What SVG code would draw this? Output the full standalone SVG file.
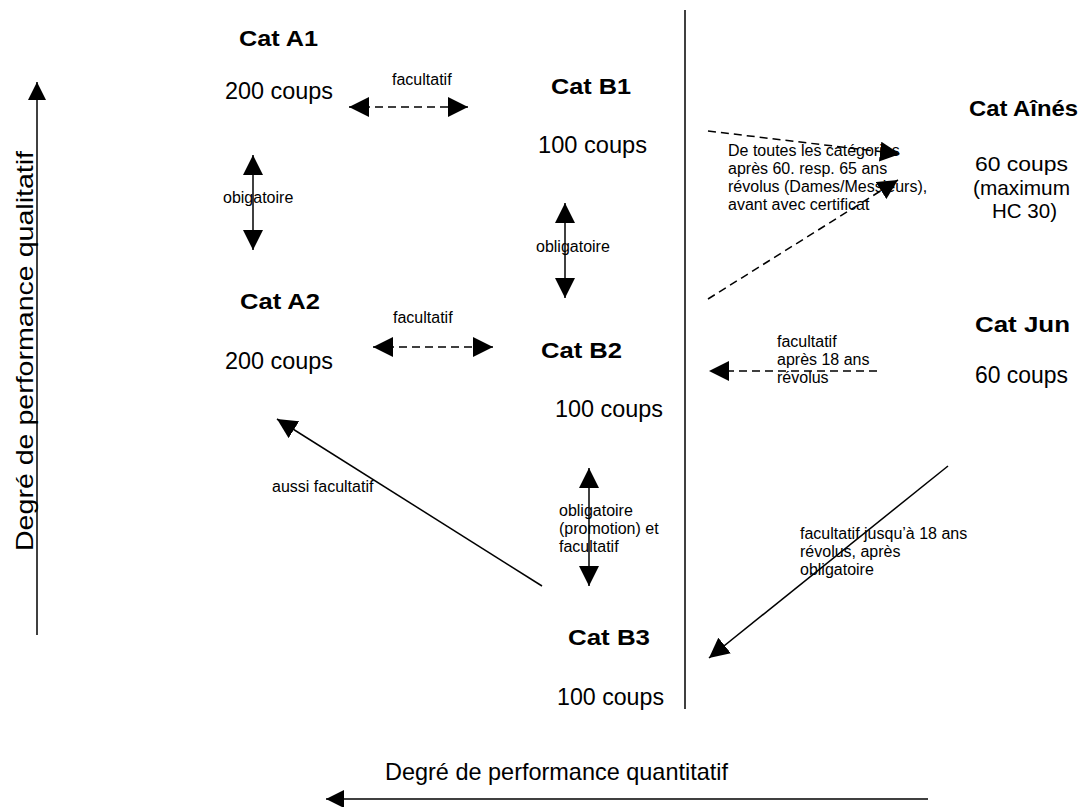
<svg xmlns="http://www.w3.org/2000/svg" width="1079" height="807" viewBox="0 0 1079 807">
<style>
text { font-family: "Liberation Sans", Arial, sans-serif; fill: #000; }
.h { font-size: 22px; font-weight: bold; }
.n { font-size: 23px; }
.m { font-size: 21px; }
.s { font-size: 16px; }
.ax { font-size: 24px; }
.ln { stroke: #000; stroke-width: 1.5; fill: none; }
.d { stroke-dasharray: 8 5; }
</style>
<defs>
<marker id="ah" viewBox="0 0 20 20" markerUnits="userSpaceOnUse" markerWidth="20" markerHeight="20" refX="20" refY="10" orient="auto-start-reverse">
<path d="M0,0 L20,10 L0,20 Z" fill="#000"/>
</marker>
<marker id="ahs" viewBox="0 0 18 18" markerUnits="userSpaceOnUse" markerWidth="18" markerHeight="18" refX="18" refY="9" orient="auto">
<path d="M0,0 L18,9 L0,18 Z" fill="#000"/>
</marker>
</defs>
<rect width="1079" height="807" fill="#fff"/>

<g id="axes">
<line class="ln" x1="37" y1="635" x2="37" y2="82" marker-end="url(#ahs)"/>
<text class="ax" transform="translate(33,551) rotate(-90)" textLength="400" lengthAdjust="spacingAndGlyphs">Degré de performance qualitatif</text>
<line class="ln" x1="928" y1="799" x2="326" y2="799" marker-end="url(#ahs)"/>
<text class="ax" x="385" y="780" textLength="343" lengthAdjust="spacingAndGlyphs">Degré de performance quantitatif</text>
<line class="ln" x1="685" y1="10" x2="685" y2="709"/>
</g>

<g id="cat-a1">
<text class="h" x="239" y="46" textLength="79" lengthAdjust="spacingAndGlyphs">Cat A1</text>
<text class="n" x="225" y="99" textLength="108" lengthAdjust="spacingAndGlyphs">200 coups</text>
</g>
<g id="cat-a2">
<text class="h" x="240" y="309" textLength="80" lengthAdjust="spacingAndGlyphs">Cat A2</text>
<text class="n" x="225" y="369" textLength="108" lengthAdjust="spacingAndGlyphs">200 coups</text>
</g>
<g id="cat-b1">
<text class="h" x="551" y="94" textLength="80" lengthAdjust="spacingAndGlyphs">Cat B1</text>
<text class="n" x="538" y="153" textLength="109" lengthAdjust="spacingAndGlyphs">100 coups</text>
</g>
<g id="cat-b2">
<text class="h" x="541" y="358" textLength="81" lengthAdjust="spacingAndGlyphs">Cat B2</text>
<text class="n" x="555" y="417" textLength="108" lengthAdjust="spacingAndGlyphs">100 coups</text>
</g>
<g id="cat-b3">
<text class="h" x="568" y="645" textLength="82" lengthAdjust="spacingAndGlyphs">Cat B3</text>
<text class="n" x="557" y="705" textLength="107" lengthAdjust="spacingAndGlyphs">100 coups</text>
</g>
<g id="cat-aines">
<text class="h" x="969" y="116" textLength="109" lengthAdjust="spacingAndGlyphs">Cat Aînés</text>
<text class="m" x="975" y="171" textLength="93" lengthAdjust="spacingAndGlyphs">60 coups</text>
<text class="m" x="973" y="195" textLength="97" lengthAdjust="spacingAndGlyphs">(maximum</text>
<text class="m" x="992" y="218" textLength="65" lengthAdjust="spacingAndGlyphs">HC 30)</text>
</g>
<g id="cat-jun">
<text class="h" x="975" y="332" textLength="95" lengthAdjust="spacingAndGlyphs">Cat Jun</text>
<text class="n" x="975" y="383" textLength="93" lengthAdjust="spacingAndGlyphs">60 coups</text>
</g>

<g id="connectors">
<g id="a1-b1">
<line class="ln d" x1="349" y1="107" x2="468" y2="107" marker-start="url(#ah)" marker-end="url(#ah)"/>
<text class="s" x="392" y="85">facultatif</text>
</g>
<g id="a2-b2">
<line class="ln d" x1="373" y1="347" x2="493" y2="347" marker-start="url(#ah)" marker-end="url(#ah)"/>
<text class="s" x="393" y="323">facultatif</text>
</g>
<g id="a1-a2">
<line class="ln" x1="253" y1="155" x2="253" y2="250" marker-start="url(#ah)" marker-end="url(#ah)"/>
<text class="s" x="223" y="203">obigatoire</text>
</g>
<g id="b1-b2">
<line class="ln" x1="565" y1="203" x2="565" y2="298" marker-start="url(#ah)" marker-end="url(#ah)"/>
<text class="s" x="536" y="252">obligatoire</text>
</g>
<g id="b2-b3">
<line class="ln" x1="589" y1="468" x2="589" y2="586" marker-start="url(#ah)" marker-end="url(#ah)"/>
<text class="s" x="559" y="516">obligatoire</text>
<text class="s" x="559" y="534">(promotion) et</text>
<text class="s" x="559" y="552">facultatif</text>
</g>
<g id="b3-a2">
<line class="ln" x1="542" y1="586" x2="277" y2="419" marker-end="url(#ah)"/>
<text class="s" x="272" y="492">aussi facultatif</text>
</g>
<g id="all-aines">
<line class="ln d" x1="708" y1="131" x2="900" y2="154" marker-end="url(#ah)"/>
<line class="ln d" x1="708" y1="299" x2="898" y2="180" marker-end="url(#ah)"/>
<text class="s" x="728" y="156">De toutes les catégories</text>
<text class="s" x="728" y="174">après 60. resp. 65 ans</text>
<text class="s" x="728" y="192">révolus (Dames/Messieurs),</text>
<text class="s" x="728" y="210">avant avec certificat</text>
</g>
<g id="jun-b2">
<line class="ln d" x1="877" y1="371" x2="709" y2="371" marker-end="url(#ah)"/>
<text class="s" x="777" y="347">facultatif</text>
<text class="s" x="777" y="365">après 18 ans</text>
<text class="s" x="777" y="383">révolus</text>
</g>
<g id="jun-b3">
<line class="ln" x1="948" y1="466" x2="709" y2="658" marker-end="url(#ah)"/>
<text class="s" x="800" y="539">facultatif jusqu’à 18 ans</text>
<text class="s" x="800" y="557">révolus, après</text>
<text class="s" x="800" y="575">obligatoire</text>
</g>
</g>
</svg>
